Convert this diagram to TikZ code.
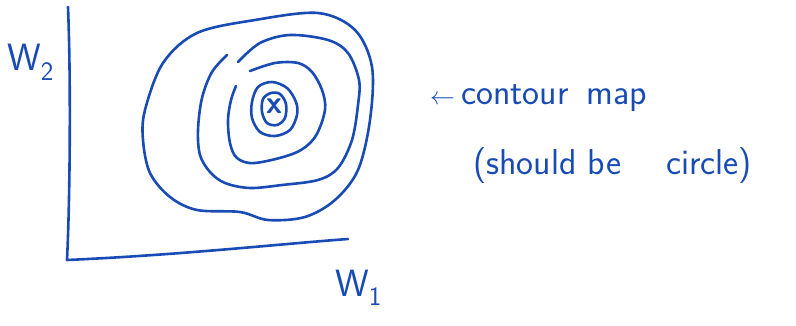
\documentclass[tikz,border=0pt]{standalone}
\usepackage{xcolor}
\definecolor{ink}{RGB}{25,75,180}

\begin{document}
\begin{tikzpicture}[
    x=1pt, y=-1pt,
    pen/.style={draw=ink, line width=2.6pt, line cap=round, line join=round},
    contour/.style={pen, smooth, tension=0.55},
    lbl/.style={text=ink, inner sep=0pt, anchor=base west, font=\fontsize{36}{40}\selectfont\sffamily},
    axislbl/.style={text=ink, inner sep=0pt, anchor=base west, font=\fontsize{38}{40}\selectfont\sffamily}
]
\useasboundingbox (0,0) rectangle (796,326);

% axes
\coordinate (ytop) at (68,7);
\coordinate (origin) at (67,260);
\coordinate (xend) at (348,239);
\draw[pen] (ytop) .. controls (71,80) and (70,200) .. (origin)
    .. controls (180,255) and (280,244) .. (xend);
\node[axislbl] (w2) at (7,71) {W\textsubscript{2}};
\node[axislbl] (w1) at (335,296) {W\textsubscript{1}};

% contours
\draw[contour] plot[smooth cycle] coordinates {(145,110) (143,140) (150,173) (170,197) (197,210) (240,212) (268,220) (305,217) (335,200) (358,170) (370,120) (372,67) (355,30) (318,13) (255,20) (197,33) (163,63)};
\draw[contour] plot coordinates {(227,55) (212,72) (202,98) (198,130) (200,155) (210,172) (225,183) (250,188) (282,185) (318,180) (338,168) (352,140) (358,105) (359,80) (348,53) (328,40) (290,35) (260,43) (238,62)};
\draw[contour] plot coordinates {(250,71) (275,63) (298,63) (312,72) (322,90) (325,110) (315,137) (295,153) (255,163) (237,158) (230,143) (228,120) (231,100) (236,86)};
\draw[contour] plot[smooth cycle] coordinates {(258,87) (272,82) (287,88) (296,102) (297,115) (290,130) (275,136) (260,132) (252,118) (252,102)};
\draw[contour] plot[smooth cycle] coordinates {(263,99) (271,93) (280,94) (286,104) (285,118) (277,125) (267,123) (262,112)};
\node[text=ink, inner sep=0pt, font=\fontsize{32}{32}\selectfont\sffamily\bfseries] (opt) at (274,106) {x};

% note
\node[lbl] (note1) at (430,105) {$\leftarrow$\,contour\hspace{18pt}map};
\node[lbl] (note2) at (473,175) {(should be\hspace{45pt}circle)};

\end{tikzpicture}
\end{document}
